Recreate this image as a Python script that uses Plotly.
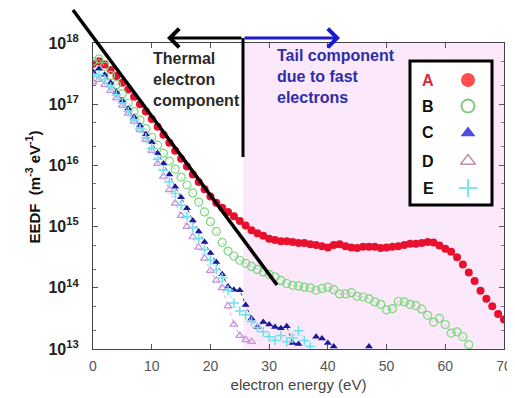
import plotly.graph_objects as go

# ---------------- data ----------------
energy_eV = list(range(0, 71))

# log10 of EEDF (m^-3 eV^-1); None = below the visible range
logA = [17.66, 17.70, 17.65, 17.56, 17.46, 17.35, 17.24, 17.12, 17.00, 16.88,
        16.76, 16.63, 16.50, 16.37, 16.24, 16.11, 15.98, 15.85, 15.73, 15.61,
        15.49, 15.39, 15.31, 15.24, 15.17, 15.09, 15.02, 14.94, 14.89, 14.85,
        14.80, 14.78, 14.76, 14.76, 14.75, 14.73, 14.73, 14.71, 14.70, 14.68,
        14.66, 14.70, 14.71, 14.68, 14.66, 14.65, 14.67, 14.67, 14.67, 14.65,
        14.66, 14.67, 14.68, 14.70, 14.72, 14.72, 14.73, 14.75, 14.74, 14.69,
        14.64, 14.59, 14.50, 14.38, 14.25, 14.11, 13.95, 13.82, 13.70, 13.57,
        13.48]

logB = [17.70, 17.74, 17.62, 17.47, 17.32, 17.17, 17.02, 16.88, 16.74, 16.60,
        16.46, 16.33, 16.20, 16.07, 15.94, 15.81, 15.68, 15.55, 15.40, 15.24,
        15.08, 14.92, 14.74, 14.60, 14.52, 14.45, 14.40, 14.35, 14.30, 14.26,
        14.22, 14.18, 14.12, 14.07, 14.04, 14.03, 14.01, 14.00, 13.96, 13.99,
        14.01, 13.97, 13.90, 13.90, 13.92, 13.86, 13.85, 13.82, 13.77, 13.73,
        13.64, 13.66, 13.78, 13.77, 13.73, 13.71, 13.65, 13.55, 13.44, 13.50,
        13.40, 13.26, 13.28, 13.20, 13.07, None, None, None, None, None,
        None]

logC = [17.53, 17.58, 17.48, 17.35, 17.20, 17.06, 16.93, 16.79, 16.65, 16.51,
        16.38, 16.20, 16.03, 15.85, 15.65, 15.48, 15.30, 15.10, 14.92, 14.75,
        14.57, 14.42, 14.22, 14.02, 13.97, 13.96, 13.72, 13.50, 13.36, 13.44,
        13.40, 13.36, 13.34, 13.37, 13.10, 13.08, None, None, 13.20, 13.17,
        13.10, 13.04, None, None, None, None, None, 13.04, None, None,
        None, None, None, None, None, None, None, None, None, None,
        None, None, None, None, None, None, None, None, None, None,
        None]

logD = [17.36, 17.40, 17.32, 17.22, 17.10, 16.98, 16.85, 16.72, 16.58, 16.42,
        16.24, 16.03, 15.82, 15.60, 15.38, 15.18, 15.00, 14.83, 14.66, 14.48,
        14.28, 14.12, 14.00, 13.70, 13.40, 13.22, 13.15, 13.12, None, None,
        None, None, None, None, None, None, None, None, None, None,
        None, None, None, None, None, None, None, None, None, None,
        None, None, None, None, None, None, None, None, None, None,
        None, None, None, None, None, None, None, None, None, None,
        None]

logE = [17.45, 17.48, 17.40, 17.28, 17.15, 17.02, 16.88, 16.74, 16.60, 16.45,
        16.28, 16.10, 15.92, 15.73, 15.54, 15.35, 15.16, 14.98, 14.80, 14.62,
        14.45, 14.30, 14.16, 13.96, 13.75, 13.62, 13.56, 13.45, 13.35, 13.28,
        13.20, 13.14, 13.22, 13.12, 13.18, 13.30, 13.14, 13.04, None, None,
        None, None, None, None, None, None, None, None, None, None,
        None, None, None, None, None, None, None, None, None, None,
        None, None, None, None, None, None, None, None, None, None,
        None]

series_names = ["A", "B", "C", "D", "E"]
y_tick_exponents = [13, 14, 15, 16, 17, 18]
x_tick_values = [0, 10, 20, 30, 40, 50, 60, 70]


def to_values(logs):
    return [None if v is None else 10 ** v for v in logs]


# ---------------- figure ----------------
# the page body has an 8px margin, so the figure is drawn 8px right/down
OFF = 8
W, H = 507, 390
# plot area in page pixels: x 93..504, y 43..349
L, T = 93 - OFF, 43 - OFF
R, B = W - (504 - OFF), H - (349 - OFF)
PW, PH = W - L - R, H - T - B


def px(xp):  # page pixel -> paper x
    return (xp - OFF - L) / PW


def py(yp):  # page pixel -> paper y
    return (H - B - (yp - OFF)) / PH


styles = {
    "A": dict(mode="markers", marker=dict(symbol="circle", size=8, color="#e8112d")),
    "B": dict(mode="lines+markers", line=dict(color="#9be49b", width=1, dash="dot"),
              marker=dict(symbol="circle-open", size=8, color="#7fd67f", line=dict(width=1.2))),
    "C": dict(mode="lines+markers", line=dict(color="#3a3ab0", width=1, dash="dot"),
              marker=dict(symbol="triangle-up", size=7, color="#1a1a9a")),
    "D": dict(mode="lines+markers", line=dict(color="#d6a8e6", width=1, dash="dot"),
              marker=dict(symbol="triangle-up-open", size=7, color="#c98ede", line=dict(width=1.2))),
    "E": dict(mode="lines+markers", line=dict(color="#9aecf2", width=1, dash="dot"),
              marker=dict(symbol="cross-thin-open", size=7, color="#6fe0ea", line=dict(width=1.5))),
}

fig = go.Figure()
for name, logs in zip(series_names, [logA, logB, logC, logD, logE]):
    fig.add_trace(go.Scatter(x=energy_eV, y=to_values(logs), name=name,
                             showlegend=False, connectgaps=False, **styles[name]))

# legend box markers drawn on an overlay axis (0..1 of plot area)
leg_y = [py(80), py(106), py(133), py(161), py(188)]
leg_colors = ["#ff0000", "#4fb04f", "#0000d0", "#a86088", "#40e0e0"]
leg_marker = dict(
    symbol=["circle", "circle-open", "triangle-up", "triangle-up-open", "cross-thin-open"],
    size=[14, 13, 13, 13, 13],
    color=leg_colors,
    line=dict(width=[0, 2, 0, 1.5, 2], color=leg_colors),
)
fig.add_trace(go.Scatter(x=[px(468)] * 5, y=leg_y, mode="markers", marker=leg_marker,
                         xaxis="x2", yaxis="y2", showlegend=False, cliponaxis=False,
                         hoverinfo="skip"))
for name, yy, col in zip(series_names, leg_y, ["#d42a3a", "#111", "#111", "#111", "#111"]):
    fig.add_annotation(x=px(428), y=yy, xref="paper", yref="paper", text=name,
                       xanchor="center", yanchor="middle",
                       showarrow=False, font=dict(size=16, color=col, family="Liberation Sans", weight="bold"))

shapes = [
    # pink tail region
    dict(type="rect", xref="x", yref="paper", x0=25.6, x1=70, y0=0, y1=1,
         fillcolor="#fce8fb", line=dict(width=0), layer="below"),
    # legend box
    dict(type="rect", xref="paper", yref="paper", x0=px(410), x1=px(492), y0=py(205), y1=py(61),
         fillcolor="white", line=dict(color="black", width=3), layer="below"),
    # thermal slope line
    dict(type="line", xref="paper", yref="paper", x0=px(73), y0=py(10), x1=px(277), y1=py(285),
         line=dict(color="black", width=3.5), layer="above"),
    # vertical divider
    dict(type="line", xref="paper", yref="paper", x0=px(243), y0=py(38), x1=px(243), y1=py(157),
         line=dict(color="black", width=3), layer="above"),
]
fig.update_layout(shapes=shapes)

# arrows
fig.add_annotation(x=px(167), y=py(38), xref="paper", yref="paper", ax=76, ay=0, text="",
                   showarrow=True, arrowhead=4, arrowsize=1.2, arrowwidth=3, arrowcolor="black")
fig.add_annotation(x=px(340), y=py(38), xref="paper", yref="paper", ax=-97, ay=0, text="",
                   showarrow=True, arrowhead=4, arrowsize=1.2, arrowwidth=3, arrowcolor="#1a1ad0")

# labels
fig.add_annotation(x=px(151), y=py(48), xref="paper", yref="paper", xanchor="left", yanchor="top",
                   align="left", showarrow=False, text="Thermal<br>electron<br>component",
                   font=dict(size=16, color="#2a2a2a", family="Liberation Sans", weight="bold"))
fig.add_annotation(x=px(275), y=py(45), xref="paper", yref="paper", xanchor="left", yanchor="top",
                   align="left", showarrow=False, text="Tail component<br>due to fast<br>electrons",
                   font=dict(size=16, color="#2d2daa", family="Liberation Sans", weight="bold"))

# y-axis title
fig.add_annotation(x=px(21), y=py(187), xref="paper", yref="paper", textangle=-90, showarrow=False,
                   text="EEDF  (m<sup>-3</sup> eV<sup>-1</sup>)",
                   font=dict(size=15, color="#111", family="Liberation Sans", weight="bold"))

minor_y = []
for e in range(13, 18):
    minor_y += [2 * 10 ** e, 5 * 10 ** e]

fig.update_layout(
    width=W, height=H,
    margin=dict(l=L, r=R, t=T, b=B, pad=0, autoexpand=False),
    paper_bgcolor="white", plot_bgcolor="white",
    font=dict(family="Liberation Sans"),
    xaxis=dict(range=[0, 70], tickvals=x_tick_values, ticks="inside", ticklen=5, tickcolor="#555",
               showline=True, linecolor="#444", linewidth=1.2, mirror="ticks", showgrid=False,
               zeroline=False, tickfont=dict(size=14, color="#555"), ticklabelstandoff=4,
               automargin=False,
               title=dict(text="electron energy (eV)", font=dict(size=15, color="#444"), standoff=6)),
    yaxis=dict(type="log", range=[13, 18], tickvals=[10 ** e for e in y_tick_exponents],
               ticktext=["10<sup>%d</sup>" % e for e in y_tick_exponents],
               ticks="inside", ticklen=5, tickcolor="#555",
               minor=dict(tickvals=minor_y, ticks="inside", ticklen=3, tickcolor="#777"),
               showline=True, linecolor="#444", linewidth=1.2, mirror="ticks", showgrid=False,
               zeroline=False, ticklabelstandoff=10, automargin=False,
               tickfont=dict(size=16, color="#222", weight="bold")),
    xaxis2=dict(overlaying="x", range=[0, 1], visible=False, fixedrange=True, automargin=False),
    yaxis2=dict(overlaying="y", range=[0, 1], visible=False, fixedrange=True, automargin=False),
)

fig.write_html("out.html")
